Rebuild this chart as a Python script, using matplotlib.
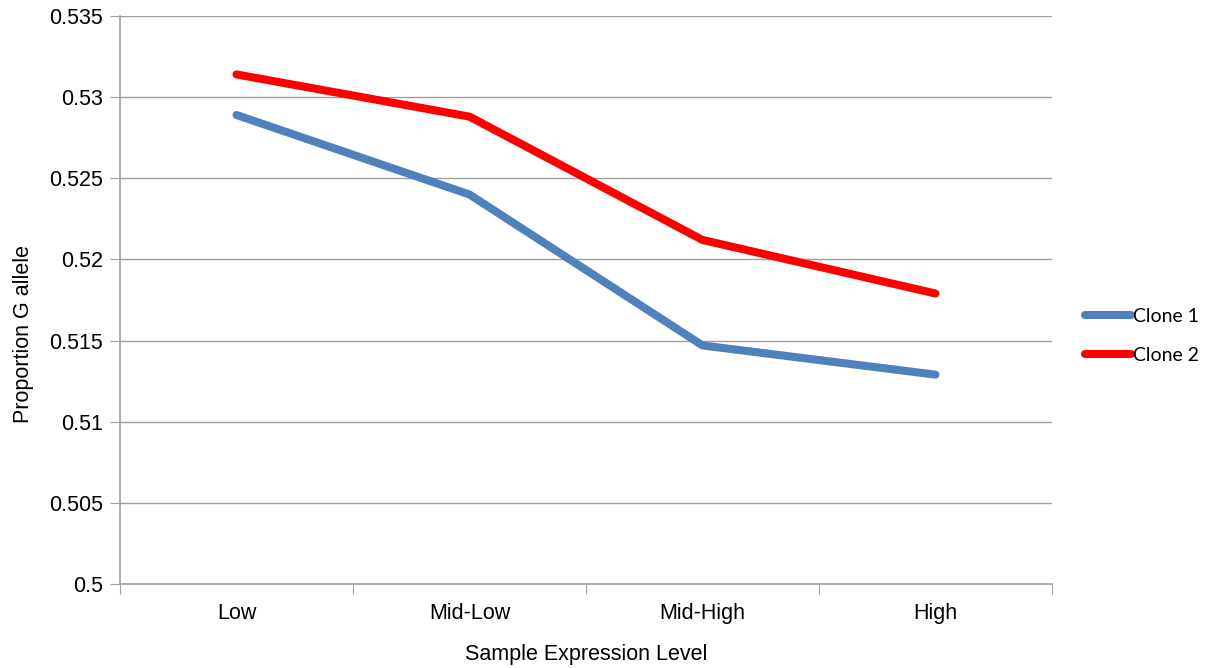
import matplotlib.pyplot as plt
import numpy as np
from matplotlib.ticker import FixedLocator, FuncFormatter

levels = ['Low', 'Mid-Low', 'Mid-High', 'High']
clone1 = [0.5289, 0.5240, 0.5147, 0.5129]
clone2 = [0.5314, 0.5288, 0.5212, 0.5179]
y_ticks = [0.5, 0.505, 0.51, 0.515, 0.52, 0.525, 0.53, 0.535]

plt.rcParams['font.family'] = ['Liberation Sans', 'DejaVu Sans']

fig = plt.figure(figsize=(12.05, 6.68), dpi=100)
ax = fig.add_axes([120 / 1205, 84 / 668, 932 / 1205, 568 / 668])

x = np.arange(len(levels))
l1, = ax.plot(x, clone1, color='#4F81BD', lw=5.8, solid_capstyle='round', label='Clone 1')
l2, = ax.plot(x, clone2, color='#FF0000', lw=5.8, solid_capstyle='round', label='Clone 2')

ax.set_xlim(-0.5, len(levels) - 0.5)
ax.set_ylim(0.5, 0.535)
ax.set_yticks(y_ticks)
ax.yaxis.set_major_formatter(FuncFormatter(lambda v, p: '%g' % round(v, 3)))
ax.grid(axis='y', color='#a0a0a0', lw=1)
ax.set_axisbelow(True)

# category boundaries get the tick marks, labels sit in the middle
ax.xaxis.set_major_locator(FixedLocator(np.arange(len(levels) + 1) - 0.5))
ax.xaxis.set_major_formatter(FuncFormatter(lambda v, p: ''))
ax.xaxis.set_minor_locator(FixedLocator(x))
ax.set_xticklabels(levels, minor=True)
ax.tick_params(axis='x', which='major', length=7, color='#a0a0a0', direction='out')
ax.tick_params(axis='x', which='minor', length=0, labelsize=15.5, pad=14)
ax.tick_params(axis='y', length=7, color='#a0a0a0', labelsize=15.5, pad=5)

for s in ['top', 'right']:
    ax.spines[s].set_visible(False)
for s in ['left', 'bottom']:
    ax.spines[s].set_color('#a0a0a0')
    ax.spines[s].set_linewidth(1.2)

ax.set_xlabel('Sample Expression Level', fontsize=15.5)
ax.xaxis.set_label_coords(0.5, -0.105)
ax.set_ylabel('Proportion G allele', fontsize=15.5)
ax.yaxis.set_label_coords(-0.092, 0.44)

fig.legend(handles=[l1, l2], loc='center left', bbox_to_anchor=(1067 / 1205, 1 - 336 / 668),
           frameon=False, handlelength=2.4, handletextpad=0.1,
           labelspacing=1.15, prop={'family': ['Lato', 'DejaVu Sans'], 'size': 14})

fig.savefig('out.png', dpi=100)
